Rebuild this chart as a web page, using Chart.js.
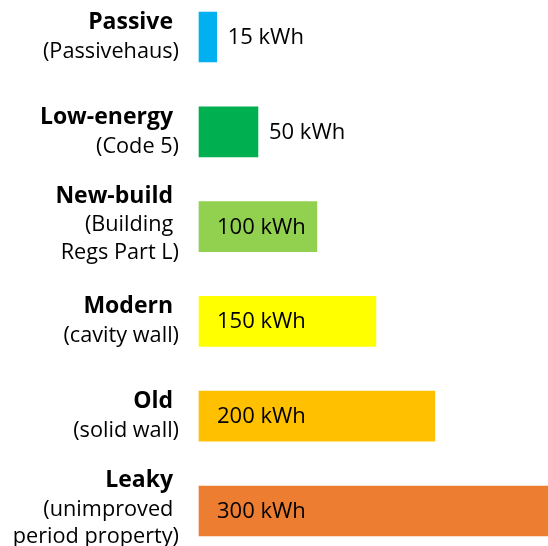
<!DOCTYPE html>
<html>
<head>
<meta charset="utf-8">
<script src="https://cdn.jsdelivr.net/npm/chart.js@4/dist/chart.umd.min.js"></script>
<style>
  html, body { margin: 0; padding: 0; background: #fff; overflow: hidden; }
  canvas { display: block; }
</style>
</head>
<body>
<canvas id="energyChart" width="548" height="546"></canvas>
<script>
// Data
const categories = ["Passive", "Low-energy", "New-build", "Modern", "Old", "Leaky"];
const subtitles = [
    ["(Passivehaus)"],
    ["(Code 5)"],
    ["(Building ", "Regs Part L)"],
    ["(cavity wall)"],
    ["(solid wall)"],
    ["(unimproved ", "period property)"]
];
const values = [15, 50, 100, 150, 200, 300];
const unit = "kWh";
const barColors = ["#00B0F0", "#00B050", "#92D050", "#FFFF00", "#FFC000", "#ED7D31"];

const FONT = "'Open Sans', sans-serif";

// Left labels: bold name + normal subtitle lines
const sideLabels = {
    id: "sideLabels",
    afterDraw(chart) {
        const ctx = chart.ctx;
        const yScale = chart.scales.y;
        ctx.save();
        ctx.fillStyle = "#000";
        ctx.textAlign = "right";
        ctx.textBaseline = "alphabetic";
        categories.forEach((name, i) => {
            const cy = yScale.getPixelForValue(i);
            const n = subtitles[i].length + 1;
            let y = cy - (n - 1) * 16;
            ctx.font = "bold 23px " + FONT;
            ctx.fillText(name + " ", 179, y + 8);
            y += 29;
            ctx.font = "21.7px " + FONT;
            subtitles[i].forEach(t => {
                ctx.fillText(t, 179, y + 7.7);
                y += 27.5;
            });
        });
        ctx.restore();
    }
};

// Value labels: inside the bar when it fits, otherwise just after it
const valueLabels = {
    id: "valueLabels",
    afterDatasetsDraw(chart) {
        const ctx = chart.ctx;
        const meta = chart.getDatasetMeta(0);
        ctx.save();
        ctx.fillStyle = "#000";
        ctx.font = "22px " + FONT;
        ctx.textAlign = "left";
        ctx.textBaseline = "alphabetic";
        meta.data.forEach((bar, i) => {
            const text = values[i] + " " + unit;
            const w = ctx.measureText(text).width;
            const x = (bar.x - bar.base > w + 20) ? bar.base + 18 : bar.x + 11;
            ctx.fillText(text, x, bar.y + 7);
        });
        ctx.restore();
    }
};

new Chart(document.getElementById("energyChart").getContext("2d"), {
    type: "bar",
    data: {
        labels: categories,
        datasets: [{
            data: values,
            backgroundColor: barColors,
            borderWidth: 0,
            barThickness: 50,
            clip: false
        }]
    },
    options: {
        indexAxis: "y",
        responsive: false,
        animation: false,
        layout: { padding: { left: 199, right: 0, top: 37, bottom: 35 } },
        scales: {
            x: { display: false, min: 0, max: 296 },
            y: { display: false, offset: false }
        },
        plugins: {
            legend: { display: false },
            tooltip: { enabled: false }
        }
    },
    plugins: [sideLabels, valueLabels]
});
</script>
</body>
</html>
